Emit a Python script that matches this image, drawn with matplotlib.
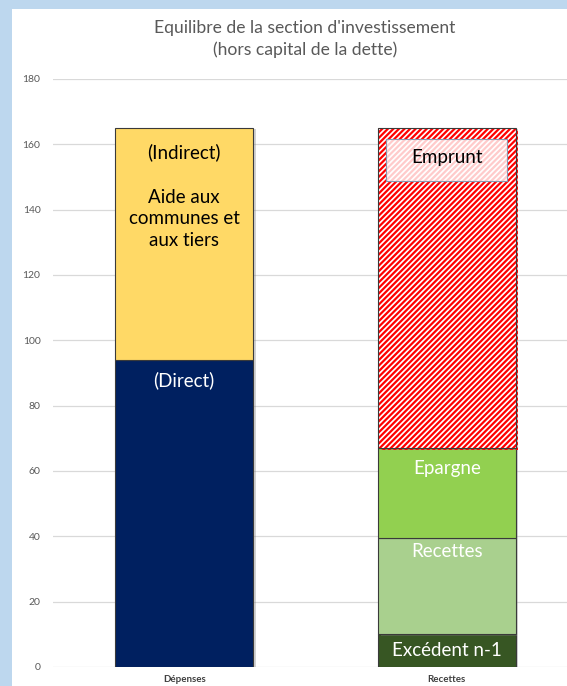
import matplotlib
matplotlib.use("Agg")
import matplotlib.pyplot as plt
from matplotlib.patches import Rectangle
from matplotlib import patheffects as pe

plt.rcParams['font.family'] = ['Lato', 'DejaVu Sans']

# Data
categories = ["Dépenses", "Recettes"]
depenses_direct = 94.0
depenses_indirect = 71.0
rec_excedent = 10.0
rec_recettes = 29.5
rec_epargne = 27.5
rec_emprunt = 98.0

title = "Equilibre de la section d'investissement\n(hors capital de la dette)"
yticks = [0, 20, 40, 60, 80, 100, 120, 140, 160, 180]

W, H = 567, 686
fig = plt.figure(figsize=(W / 100, H / 100), dpi=100)
fig.patch.set_facecolor("#BDD7EE")
# white chart area
fig.patches.append(Rectangle((12 / W, 0), 1, 1 - 9 / H, transform=fig.transFigure,
                             facecolor="white", edgecolor="none", zorder=-10))

ax = fig.add_axes([53 / W, 19 / H, 525 / W, 588 / H])
ax.set_facecolor("none")
ax.set_xlim(-0.5, 1.5)
ax.set_ylim(0, 180)
ax.set_yticks(yticks)
ax.yaxis.grid(True, color="#D9D9D9", linewidth=0.9)
ax.set_axisbelow(True)
for s in ax.spines.values():
    s.set_visible(False)
ax.tick_params(axis="y", length=0, labelsize=7.5, labelcolor="#595959", pad=9)
ax.tick_params(axis="x", length=0, labelsize=7, labelcolor="#404040", pad=6)
ax.set_xticks([0, 1])
ax.set_xticklabels(categories, fontweight="bold")

bw = 0.525
edge = "#3A3A3A"


def shadow():
    return [pe.SimplePatchShadow(offset=(2, -1), alpha=0.35, shadow_rgbFace="#7F7F7F"), pe.Normal()]


# Dépenses
ax.bar(0, depenses_direct, bw, color="#002060", edgecolor=edge, linewidth=0.8,
       path_effects=shadow(), zorder=2)
ax.bar(0, depenses_indirect, bw, bottom=depenses_direct, color="#FFD966",
       edgecolor=edge, linewidth=0.8, path_effects=shadow(), zorder=2)

# Recettes
r_vals = [rec_excedent, rec_recettes, rec_epargne]
r_cols = ["#375623", "#A9D08E", "#92D050"]
bottom = 0.0
r_tops = []
for v, c in zip(r_vals, r_cols):
    ax.bar(1, v, bw, bottom=bottom, color=c, edgecolor=edge, linewidth=0.8,
           path_effects=shadow(), zorder=2)
    bottom += v
    r_tops.append(bottom)

plt.rcParams['hatch.linewidth'] = 1.6
ax.bar(1, rec_emprunt, bw, bottom=bottom, color="white", edgecolor="#FF0000",
       hatch="//////", linewidth=0, zorder=2, path_effects=shadow())
ax.bar(1, rec_emprunt, bw, bottom=bottom, color="none", edgecolor=edge, linewidth=0.8, zorder=3)
emprunt_top = bottom + rec_emprunt


def seg_label(x, top, text, dy, color, size=13.5):
    ax.annotate(text, xy=(x, top), xytext=(0, -dy), textcoords="offset pixels",
                ha="center", va="center", color=color, fontsize=size,
                linespacing=1.3, zorder=5)


dep_top = depenses_direct + depenses_indirect
seg_label(0, dep_top, "(Indirect)", 24, "black")
seg_label(0, dep_top, "Aide aux\ncommunes et\naux tiers", 91, "black")
seg_label(0, depenses_direct, "(Direct)", 20, "white")

# Emprunt label with a pale box
box_w = 0.46
box_top = emprunt_top - 3.4
box_h = 12.8
ax.add_patch(Rectangle((1 - box_w / 2, box_top - box_h), box_w, box_h,
                       facecolor="white", alpha=0.8, edgecolor="none", zorder=4))
ax.add_patch(Rectangle((1 - box_w / 2, box_top - box_h), box_w, box_h,
                       facecolor="none", edgecolor="#8497B0", linewidth=0.8, zorder=4))
seg_label(1, emprunt_top, "Emprunt", 29, "black")
seg_label(1, r_tops[2], "Epargne", 20, "white")
seg_label(1, r_tops[1], "Recettes", 14, "white")
seg_label(1, r_tops[0], "Excédent n-1", 16, "white")

fig.text(305 / W, 1 - 39 / H, title, ha="center", va="center",
         fontsize=12.6, color="#595959", linespacing=1.35)

fig.savefig("out.png", dpi=100, facecolor=fig.get_facecolor())
